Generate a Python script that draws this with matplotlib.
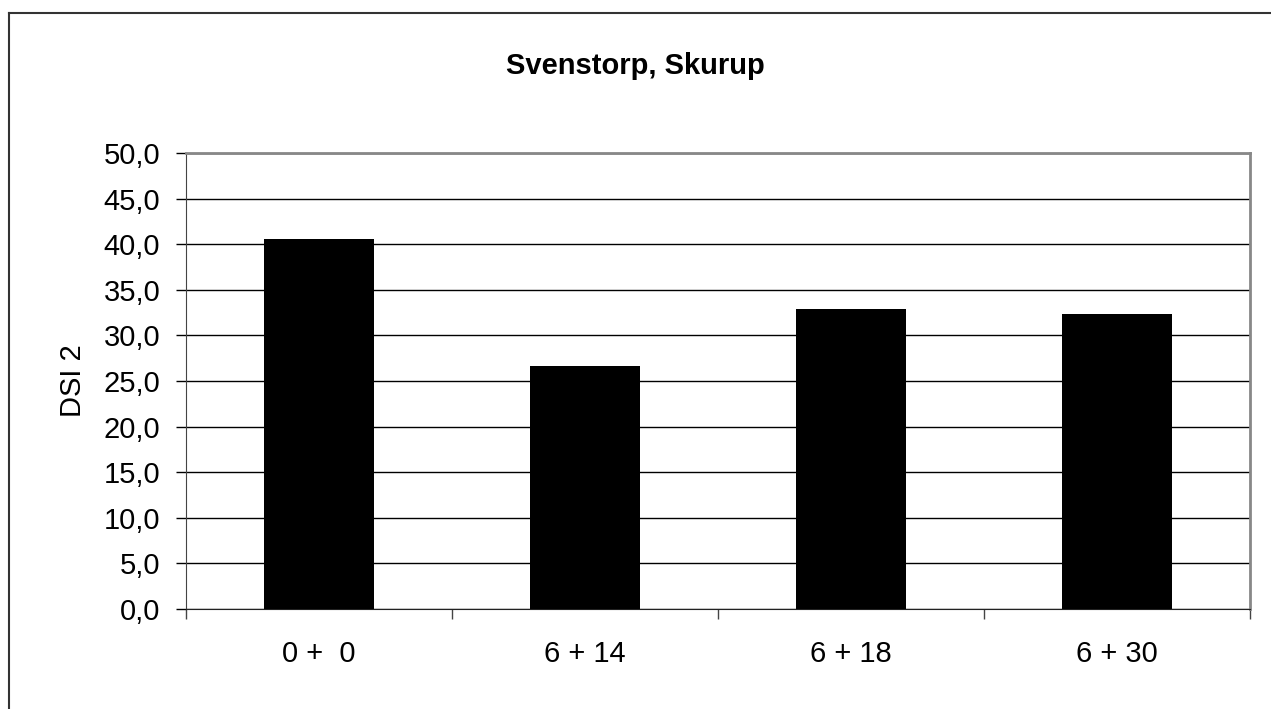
import matplotlib.pyplot as plt
import numpy as np
from matplotlib.lines import Line2D

plt.rcParams['font.family'] = ['Liberation Sans', 'DejaVu Sans']

categories = ['0 +  0', '6 + 14', '6 + 18', '6 + 30']
dsi2 = [40.6, 26.6, 32.9, 32.4]
yticks = np.arange(0, 50.1, 5)

W, H = 1271, 709
fig = plt.figure(figsize=(W / 100, H / 100), dpi=100)
ax = fig.add_axes([186 / W, 1 - 609 / H, (1250 - 186) / W, (609 - 153) / H])

x = np.arange(len(categories))
ax.bar(x, dsi2, width=0.41, color='black', zorder=3)
ax.set_xlim(-0.5, len(categories) - 0.5)
ax.set_ylim(0, 50)

ax.set_yticks(yticks)
ax.set_yticklabels([f'{v:.1f}'.replace('.', ',') for v in yticks], fontsize=21)
ax.yaxis.grid(True, color='black', linewidth=1.0, zorder=0)

ax.set_xticks(x)
ax.set_xticklabels(categories, fontsize=21)
ax.tick_params(axis='x', length=0, pad=22)
ax.set_xticks(np.arange(-0.5, len(categories)), minor=True)
ax.tick_params(axis='x', which='minor', length=7, width=1, color='#444444')
ax.tick_params(axis='y', length=7.5, width=1, color='black', pad=11)

ax.set_ylabel('DSI 2', fontsize=21, labelpad=12)

for s in ['top', 'right']:
    ax.spines[s].set_color('#888888')
    ax.spines[s].set_linewidth(2)
ax.spines['left'].set_color('#444444')
ax.spines['bottom'].set_color('#222222')

fig.text(0.5, 1 - 66 / H, 'Svenstorp, Skurup', ha='center', va='center',
         fontsize=21, fontweight='bold')

# outer chart frame (left and top visible)
fig.add_artist(Line2D([9 / W, 9 / W], [0, 1 - 13 / H], color='#333333', lw=1.5))
fig.add_artist(Line2D([9 / W, 1], [1 - 13 / H, 1 - 13 / H], color='#333333', lw=1.5))

fig.savefig('out.png', dpi=100)
